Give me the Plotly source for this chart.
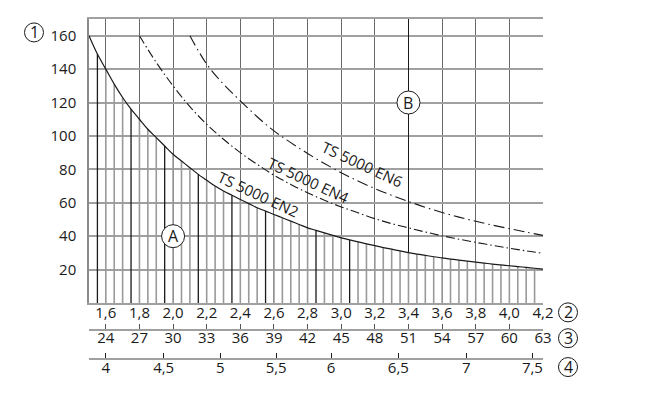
import plotly.graph_objects as go

# ---------------- data ----------------
en2_x = [1.50, 1.55, 1.60, 1.65, 1.70, 1.75, 1.80, 1.85, 1.90, 1.95,
         2.00, 2.05, 2.10, 2.15, 2.20, 2.25, 2.30, 2.35, 2.40, 2.45,
         2.50, 2.55, 2.60, 2.65, 2.70, 2.75, 2.80, 2.85, 2.90, 2.95,
         3.00, 3.05, 3.10, 3.15, 3.20, 3.25, 3.30, 3.35, 3.40, 3.45,
         3.50, 3.55, 3.60, 3.65, 3.70, 3.75, 3.80, 3.85, 3.90, 3.95,
         4.00, 4.05, 4.10, 4.15, 4.20]
en2_y = [160, 149, 140, 131, 123, 116, 110, 104, 99, 94,
         89, 85, 81, 77, 73.5, 70, 67, 64.5, 62, 59.5,
         57, 55, 53, 51, 49, 47, 45, 43.5, 42, 40.5,
         39, 37.8, 36.6, 35.4, 34.3, 33.2, 32.2, 31.2, 30.2, 29.3,
         28.5, 27.7, 27, 26.3, 25.7, 25.1, 24.5, 23.9, 23.3, 22.8,
         22.3, 21.8, 21.3, 20.8, 20.3]

en4_x = [1.8, 1.9, 2.0, 2.1, 2.2, 2.3, 2.4, 2.5, 2.6, 2.7, 2.8, 2.9, 3.0,
         3.1, 3.2, 3.3, 3.4, 3.5, 3.6, 3.7, 3.8, 3.9, 4.0, 4.1, 4.2]
en4_y = [160, 144, 130, 117.5, 107, 98, 90, 83, 76.5, 71, 66, 61.5, 57.5,
         54, 50.5, 47.5, 45, 42.5, 40.2, 38.2, 36.3, 34.5, 32.8, 31.2, 29.7]

en6_x = [2.1, 2.2, 2.3, 2.4, 2.5, 2.6, 2.7, 2.8, 2.9, 3.0, 3.1,
         3.2, 3.3, 3.4, 3.5, 3.6, 3.7, 3.8, 3.9, 4.0, 4.1, 4.2]
en6_y = [160, 143, 131, 121, 111.5, 103, 96, 89.5, 83.5, 78, 73,
         68.5, 64.5, 60.8, 57.3, 54.2, 51.4, 48.9, 46.6, 44.5, 42.4, 40.5]

# hatch lines under the EN2 curve (every 0.05 from 1.55 to 4.15); darker ones listed
hatch_dark_x = [1.55, 1.75, 1.95, 2.15, 2.35, 2.55, 2.85, 3.05]

y_ticks = [20, 40, 60, 80, 100, 120, 140, 160]
x_ticks = [1.6, 1.8, 2.0, 2.2, 2.4, 2.6, 2.8, 3.0, 3.2, 3.4, 3.6, 3.8, 4.0, 4.2]
x_labels = ["1,6", "1,8", "2,0", "2,2", "2,4", "2,6", "2,8", "3,0",
            "3,2", "3,4", "3,6", "3,8", "4,0", "4,2"]
row3_labels = ["24", "27", "30", "33", "36", "39", "42", "45",
               "48", "51", "54", "57", "60", "63"]
row4_labels = ["4", "4,5", "5", "5,5", "6", "6,5", "7", "7,5"]
row4_pos = [1.6, 1.944, 2.28, 2.613, 2.94, 3.34, 3.744, 4.137]

curve_names = ["TS 5000 EN2", "TS 5000 EN4", "TS 5000 EN6"]

# ---------------- figure ----------------
FONT = "Open Sans"
BLACK = "#1a1a1a"
GRID_H = "#a0a0a0"
GRID_V = "#6a6a6a"

fig = go.Figure()

# hatch traces
hx_d, hy_d, hx_g, hy_g = [], [], [], []
for xv, yv in zip(en2_x, en2_y):
    if xv <= 1.5 or xv >= 4.2:
        continue
    if any(abs(xv - d) < 1e-6 for d in hatch_dark_x):
        hx_d += [xv, xv, None]
        hy_d += [0, yv, None]
    else:
        hx_g += [xv, xv, None]
        hy_g += [0, yv, None]

fig.add_trace(go.Scatter(x=hx_g, y=hy_g, mode="lines",
                         line=dict(color="#9a9a9a", width=1.6),
                         hoverinfo="skip", showlegend=False))
fig.add_trace(go.Scatter(x=hx_d, y=hy_d, mode="lines",
                         line=dict(color=BLACK, width=1.3),
                         hoverinfo="skip", showlegend=False))

fig.add_trace(go.Scatter(x=en2_x, y=en2_y, mode="lines", name=curve_names[0],
                         line=dict(color=BLACK, width=1.2, shape="spline"),
                         showlegend=False))
fig.add_trace(go.Scatter(x=en4_x, y=en4_y, mode="lines", name=curve_names[1],
                         line=dict(color=BLACK, width=1.1, shape="spline",
                                   dash="9px,3px,1.5px,3px"),
                         showlegend=False))
fig.add_trace(go.Scatter(x=en6_x, y=en6_y, mode="lines", name=curve_names[2],
                         line=dict(color=BLACK, width=1.1, shape="spline",
                                   dash="11px,4px,1.5px,4px"),
                         showlegend=False))

# empty traces to materialise the extra axes
for ax in ["x2", "x3", "x4"]:
    fig.add_trace(go.Scatter(x=[None], y=[None], xaxis=ax, yaxis="y",
                             showlegend=False, hoverinfo="skip"))

tick_font = dict(family=FONT, size=15, color=BLACK)

ydom_bottom = 0.2067
fig.update_layout(
    width=648, height=389,
    margin=dict(l=81, r=113, t=9, b=20),
    paper_bgcolor="white", plot_bgcolor="white",
    font=dict(family=FONT, color=BLACK),
    showlegend=False,
    xaxis=dict(range=[1.5, 4.2], tickvals=x_ticks, ticktext=x_labels,
               showgrid=True, gridcolor=GRID_V, gridwidth=1.2,
               showline=True, linecolor=GRID_H, linewidth=2, mirror=True,
               ticks="", ticklen=0, tickfont=tick_font, zeroline=False,
               anchor="y", ticklabelstandoff=-5),
    yaxis=dict(range=[0, 170], tickvals=y_ticks, domain=[ydom_bottom, 1],
               showgrid=True, gridcolor=GRID_H, gridwidth=2,
               showline=True, linecolor="#8a8a8a", linewidth=1.5,
               ticks="", tickfont=tick_font, zeroline=False,
               ticklabelstandoff=8),
    xaxis2=dict(range=[1.5, 4.2], tickvals=x_ticks, ticktext=row3_labels,
                overlaying="x", anchor="free", position=0.1306,
                showgrid=False, zeroline=False,
                showline=True, linecolor=GRID_H, linewidth=2,
                ticks="inside", ticklen=5, tickwidth=1, tickcolor="#555555",
                tickfont=tick_font, ticklabelstandoff=-6),
    xaxis3=dict(range=[1.5, 4.2], tickvals=row4_pos, ticktext=row4_labels,
                overlaying="x", anchor="free", position=0.05,
                showgrid=False, zeroline=False,
                showline=True, linecolor=GRID_H, linewidth=2,
                ticks="inside", ticklen=5, tickwidth=1, tickcolor=BLACK,
                tickfont=tick_font, ticklabelstandoff=-5),
    xaxis4=dict(range=[1.5, 4.2], tickvals=[3.4, 4.2], showticklabels=False,
                overlaying="x", anchor="y", showgrid=True, gridcolor=BLACK,
                gridwidth=1.3, zeroline=False, showline=False, ticks=""),
)

# curve labels
label_pos = [(2.506, 65.2), (2.804, 73.6), (3.125, 83.1)]
for name, (lx, ly) in zip(curve_names, label_pos):
    fig.add_annotation(x=lx, y=ly, xref="x", yref="y", text=name,
                       showarrow=False, textangle=25,
                       font=dict(family=FONT, size=15, color=BLACK))

# circled markers
def circle(xa, ya, xref, yref, r, label, fs):
    fig.add_shape(type="circle", xref=xref, yref=yref,
                  xsizemode="pixel", ysizemode="pixel",
                  xanchor=xa, yanchor=ya, x0=-r, x1=r, y0=-r, y1=r,
                  line=dict(color=BLACK, width=1), fillcolor="white",
                  layer="above")
    fig.add_annotation(x=xa, y=ya, xref=xref, yref=yref, text=label,
                       showarrow=False, xanchor="center", yanchor="middle",
                       font=dict(family=FONT, size=fs, color=BLACK))

circle(2.0, 40, "x", "y", 11.5, "A", 16)
circle(3.4, 120, "x", "y", 11.5, "B", 16)

# circled numbers outside the plot (paper coords, reference pixel positions)
def px_to_paper(px, py):
    return (px - 89) / 454, (377 - py) / 360

for (px, py), lab in zip([(34, 30.5), (568, 312), (568, 338), (568, 367)],
                         ["1", "2", "3", "4"]):
    xp, yp = px_to_paper(px, py)
    circle(xp, yp, "paper", "paper", 9.5, lab, 16)

fig.write_html("out.html")
